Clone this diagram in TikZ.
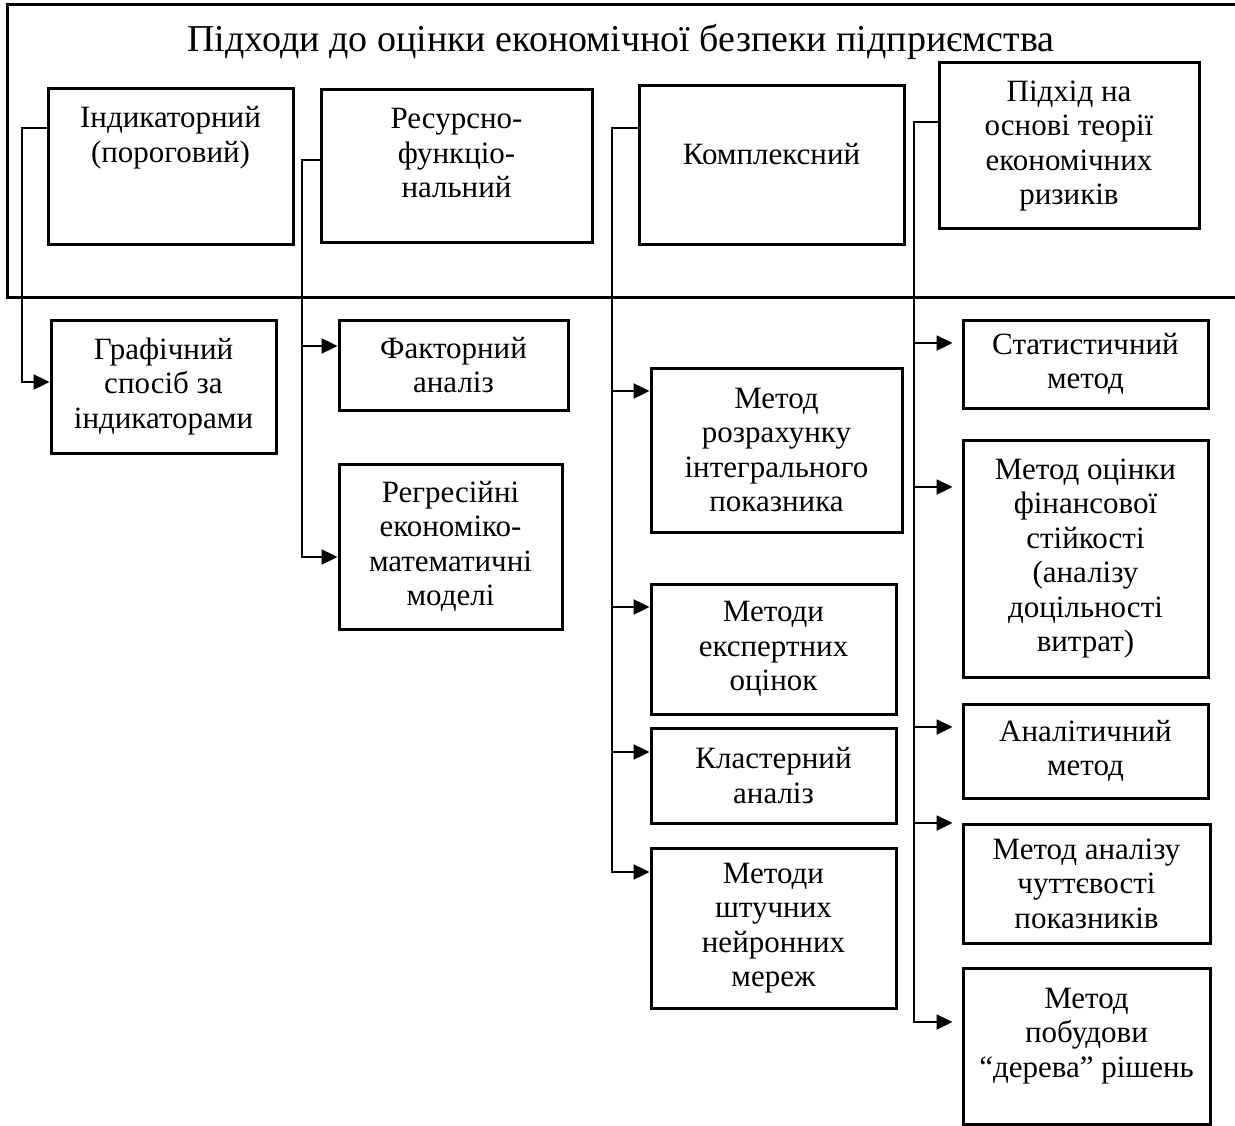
\documentclass[tikz,border=0pt]{standalone}
\usepackage{fontspec}
\setmainfont{Liberation Serif}
\usetikzlibrary{arrows.meta}

\newcommand{\boxfont}{\fontsize{31}{34.5}\selectfont}
\newcommand{\toptext}[4]{\parbox[c][#2][t]{#1}{\centering\rule{0pt}{#3}#4}}

\begin{document}
\begin{tikzpicture}[x=1pt, y=-1pt,
  box/.style={draw, line width=3pt, inner sep=0pt, align=center, font=\boxfont},
  link/.style={line width=2.4pt},
  arr/.style={link, -{Triangle[length=16pt,width=15pt]}},
  frame/.style={line width=3pt}]

\useasboundingbox (0,0) rectangle (1235,1126);

% frame with the title
\draw[frame] (1235,5) -- (7,5) -- (7,298) -- (1235,298);
\node[anchor=base, font=\fontsize{38}{42}\selectfont] (head) at (621,52)
  {Підходи до оцінки економічної безпеки підприємства};

% approaches
\node[box] (ind) at (170.5,167) {\toptext{245pt}{156pt}{39pt}{Індикаторний\\(пороговий)}};
\node[box] (res) at (456.5,166.5) {\toptext{271pt}{153pt}{39pt}{Ресурсно-\\функціо-\\нальний}};
\node[box] (kompl) at (771.5,165.5) {\toptext{265pt}{159pt}{79pt}{Комплексний}};
\node[box, minimum width=260, minimum height=166] (teor) at (1069,146)
  {Підхід на\\основі теорії\\економічних\\ризиків};

% methods
\node[box, minimum width=225, minimum height=133] (graf) at (163.5,386.5) {Графічний\\спосіб за\\індикаторами};

\node[box, minimum width=229, minimum height=90] (fakt) at (453.5,365) {Факторний\\аналіз};
\node[box, minimum width=223, minimum height=165] (regr) at (450.5,546.5) {Регресійні\\економіко-\\математичні\\моделі};

\node[box, minimum width=251, minimum height=164] (rozr) at (776.5,450) {Метод\\розрахунку\\інтегрального\\показника};
\node[box, minimum width=245, minimum height=130] (expert) at (773.5,649) {Методи\\експертних\\оцінок};
\node[box, minimum width=245, minimum height=95] (klast) at (773.5,775.5) {Кластерний\\аналіз};
\node[box, minimum width=245, minimum height=160] (neur) at (773.5,928) {Методи\\штучних\\нейронних\\мереж};

\node[box, minimum width=245, minimum height=88] (stat) at (1085.5,364) {Статистичний\\метод};
\node[box, minimum width=245, minimum height=237] (fin) at (1085.5,558.5) {Метод оцінки\\фінансової\\стійкості\\(аналізу\\доцільності\\витрат)};
\node[box, minimum width=245, minimum height=94] (anal) at (1085.5,751) {Аналітичний\\метод};
\node[box, minimum width=247, minimum height=119] (chut) at (1086.5,883.5) {Метод аналізу\\чуттєвості\\показників};
\node[box] (tree) at (1086.5,1046) {\toptext{247pt}{156pt}{40pt}{Метод\\побудови\\“дерева” рішень}};

% spines
\coordinate (s1) at (22,128);
\coordinate (s1a) at (22,382);
\coordinate (s2) at (302,160);
\coordinate (s2a) at (302,346);
\coordinate (s2b) at (302,557);
\coordinate (s3) at (612,128);
\coordinate (s3a) at (612,391);
\coordinate (s3b) at (612,607);
\coordinate (s3c) at (612,752);
\coordinate (s3d) at (612,872);
\coordinate (s4) at (914,122);
\coordinate (s4a) at (914,343);
\coordinate (s4b) at (914,487);
\coordinate (s4c) at (914,727);
\coordinate (s4d) at (914,823);
\coordinate (s4e) at (914,1022);

\draw[arr] (s1 -| ind.west) -- (s1) -- (s1a) -- (s1a -| graf.west);

\draw[arr] (s2 -| res.west) -- (s2) -- (s2b) -- (s2b -| regr.west);
\draw[arr] (s2a) -- (s2a -| fakt.west);

\draw[arr] (s3 -| kompl.west) -- (s3) -- (s3d) -- (s3d -| neur.west);
\draw[arr] (s3a) -- (s3a -| rozr.west);
\draw[arr] (s3b) -- (s3b -| expert.west);
\draw[arr] (s3c) -- (s3c -| klast.west);

\draw[arr, shorten >=9pt] (s4 -| teor.west) -- (s4) -- (s4e) -- (s4e -| tree.west);
\draw[arr, shorten >=9pt] (s4a) -- (s4a -| stat.west);
\draw[arr, shorten >=9pt] (s4b) -- (s4b -| fin.west);
\draw[arr, shorten >=9pt] (s4c) -- (s4c -| anal.west);
\draw[arr, shorten >=9pt] (s4d) -- (s4d -| chut.west);

\end{tikzpicture}
\end{document}
